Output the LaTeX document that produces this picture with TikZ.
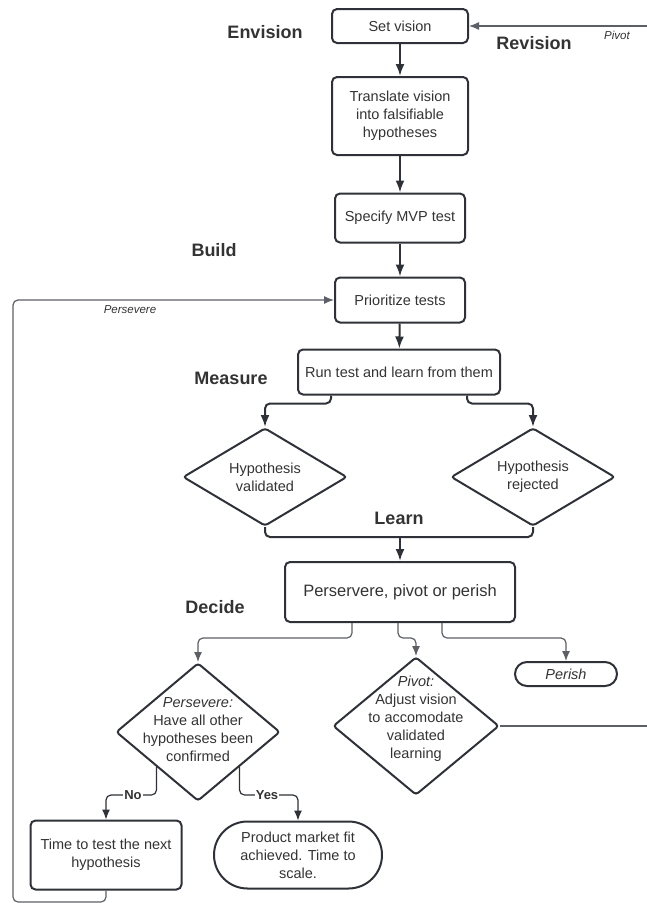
\documentclass[tikz,border=0pt]{standalone}
\usepackage{fontspec}
\setmainfont{Liberation Sans}
\usetikzlibrary{arrows.meta,shapes.geometric,shapes.misc,calc}

\definecolor{ink}{HTML}{2E3238}
\definecolor{txt}{HTML}{333333}
\definecolor{wire}{HTML}{5C6066}

\newcommand{\bodyfont}{\fontsize{14.5}{18}\selectfont}

\tikzset{
  stepbox/.style={draw=ink, line width=2pt, rounded corners=5pt, align=center,
    text=txt, font=\bodyfont, inner sep=0pt},
  decision/.style={diamond, draw=ink, line width=2pt, rounded corners=3pt,
    inner sep=0pt},
  dtext/.style={align=center, text=txt, font=\bodyfont, inner sep=0pt},
  terminal/.style={rounded rectangle, draw=ink, line width=2pt, align=center,
    text=txt, font=\bodyfont, inner sep=0pt},
  phase/.style={font=\bfseries\fontsize{18}{20}\selectfont, text=txt, inner sep=0pt},
  note/.style={font=\itshape\fontsize{11.5}{13}\selectfont, text=txt, inner sep=0pt},
  flow/.style={draw=ink, line width=2pt, rounded corners=5pt,
    -{Latex[length=12pt,width=9pt]}},
  branch/.style={draw=wire, line width=1.2pt, rounded corners=5pt,
    -{Latex[length=10pt,width=8pt]}},
  wireline/.style={draw=wire, line width=1.1pt, rounded corners=5pt},
  answer/.style={font=\bfseries\fontsize{13}{15}\selectfont, text=txt,
    fill=white, inner sep=1pt},
}

\begin{document}
\begin{tikzpicture}[x=1pt,y=-1pt]
  \useasboundingbox (0,0) rectangle (647,903);

  % main column
  \node[stepbox, minimum width=136pt, minimum height=34pt] (setv) at (400,26) {Set vision};
  \node[stepbox, minimum width=136pt, minimum height=78pt] (trans) at (400,116)
    {Translate vision\\into falsifiable\\hypotheses};
  \node[stepbox, minimum width=130pt, minimum height=49pt] (spec) at (400,218) {Specify MVP test};
  \node[stepbox, minimum width=130pt, minimum height=45pt] (prio) at (400,300) {Prioritize tests};
  \node[stepbox, minimum width=202pt, minimum height=45pt] (run) at (399,372)
    {Run test and learn from them};

  % measurement outcomes
  \node[decision, minimum width=164pt, minimum height=98pt] (val) at (265,477) {};
  \node[dtext] (valtext) at (val) {Hypothesis\\validated};
  \node[decision, minimum width=164pt, minimum height=98pt] (rej) at (533,477) {};
  \node[dtext] (rejtext) at (rej) {Hypothesis\\rejected};

  % decision
  \node[stepbox, minimum width=230pt, minimum height=60pt,
        font=\fontsize{16.5}{19}\selectfont] (ppp) at (400,592) {Perservere, pivot or perish};

  \node[decision, minimum width=164pt, minimum height=138pt] (pers) at (198,732) {};
  \node[dtext] (perstext) at (198,730)
    {\textit{Persevere:}\\Have all other\\hypotheses been\\confirmed};
  \node[decision, minimum width=166pt, minimum height=138pt] (pivd) at (416,726) {};
  \node[dtext] (pivtext) at (416,719)
    {\textit{Pivot:}\\Adjust vision\\to accomodate\\validated\\learning};
  \node[terminal, minimum width=102pt, minimum height=24pt] (perish) at (566,674) {\textit{Perish}};

  \node[stepbox, minimum width=151pt, minimum height=69pt] (time) at (106,855)
    {Time to test the next\\hypothesis};
  \node[terminal, minimum width=168pt, minimum height=67pt] (pmf) at (298,855)
    {Product market fit\\achieved. Time to\\scale.};

  % phase labels
  \node[phase] (lenv) at (265,32) {Envision};
  \node[phase] (lrev) at (534,43) {Revision};
  \node[phase] (lbuild) at (214,250) {Build};
  \node[phase] (lmeas) at (231,378) {Measure};
  \node[phase] (llearn) at (399,518) {Learn};
  \node[phase] (ldec) at (215,607) {Decide};

  % main flow
  \draw[flow] (setv) -- (trans);
  \draw[flow] (trans) -- (spec);
  \draw[flow] (spec) -- (prio);
  \draw[flow] (prio) -- (run);

  \draw[flow] ($(run.south west)+(34,0)$) -- ++(0,8) -| (val.north);
  \draw[flow] ($(run.south east)+(-34,0)$) -- ++(0,8) -| (rej.north);

  \coordinate (merge) at (400,537);
  \draw[draw=ink, line width=2pt, rounded corners=5pt] (val.south) |- (merge);
  \draw[draw=ink, line width=2pt, rounded corners=5pt] (rej.south) |- (merge);
  \draw[flow] (merge) -- (ppp.north);

  % three ways out of the decision
  \draw[branch] ($(ppp.south west)+(68,0)$) -- ++(0,15) -| (pers.north);
  \draw[branch] ($(ppp.south west)+(114,0)$) -- ++(0,15) -| (pivd.north);
  \draw[branch] ($(ppp.south west)+(158,0)$) -- ++(0,15) -| (perish.north);

  % pivot: back to the vision
  \coordinate (pivout) at (660,726);
  \coordinate (pivin) at (660,26);
  \draw[wireline] (pivd.east) -- (pivout);
  \draw[branch] (pivin) -- (setv.east);
  \node[note] (lpivot) at (617,35) {Pivot};

  % persevere answers
  \coordinate (nobend) at (106,795);
  \coordinate (yesbend) at (298,795);
  \draw[branch, draw=ink] (pers.south west) |- (nobend) -- (time.north);
  \draw[branch, draw=ink] (pers.south east) |- (yesbend) -- (pmf.north);
  \node[answer] (lno) at (133,795) {No};
  \node[answer] (lyes) at (267,795) {Yes};

  % persevere loop back to prioritizing
  \coordinate (loopcorner) at (13,902);
  \draw[branch] (time.south) |- (loopcorner) |- (prio.west);
  \node[note] (lpers) at (130,310) {Persevere};
\end{tikzpicture}
\end{document}
